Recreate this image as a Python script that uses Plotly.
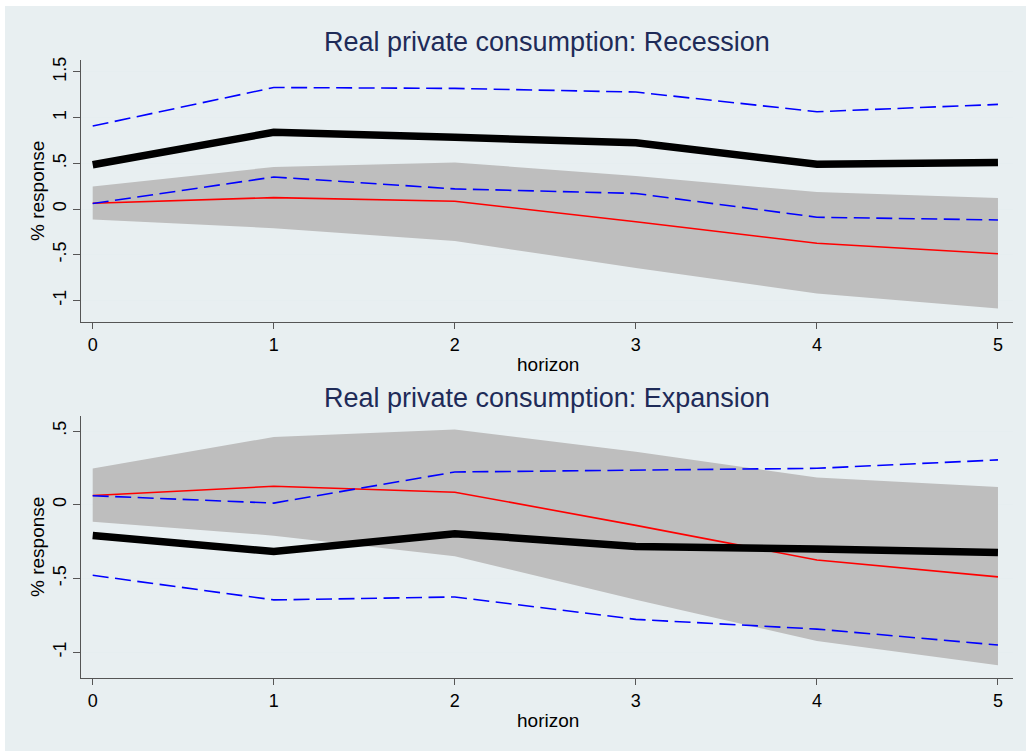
import plotly.graph_objects as go

horizon = [0, 1, 2, 3, 4, 5]

# Linear (common) response and its confidence band - same in both panels
lin_resp = [0.063, 0.125, 0.085, -0.14, -0.375, -0.49]
lin_upper = [0.245, 0.46, 0.51, 0.36, 0.185, 0.12]
lin_lower = [-0.115, -0.21, -0.35, -0.645, -0.925, -1.09]

# Recession state
rec_resp = [0.485, 0.84, 0.785, 0.725, 0.49, 0.51]
rec_upper = [0.908, 1.33, 1.32, 1.28, 1.065, 1.145]
rec_lower = [0.06, 0.35, 0.22, 0.17, -0.09, -0.12]

# Expansion state
exp_resp = [-0.209, -0.318, -0.197, -0.283, -0.30, -0.324]
exp_upper = [0.061, 0.011, 0.222, 0.233, 0.247, 0.304]
exp_lower = [-0.479, -0.646, -0.626, -0.778, -0.844, -0.952]

titles = ["Real private consumption: Recession", "Real private consumption: Expansion"]
ytick_top = [-1, -0.5, 0, 0.5, 1, 1.5]
ytick_top_text = ["-1", "-.5", "0", ".5", "1", "1.5"]
ytick_bot = [-1, -0.5, 0, 0.5]
ytick_bot_text = ["-1", "-.5", "0", ".5"]

W, H = 1026, 751
FONT = "Liberation Sans, Arial, Helvetica, sans-serif"
BG = "#E8EFF1"
NAVY = "#1E2B58"

fig = go.Figure()

panels = [
    dict(xa="x", ya="y", resp=rec_resp, up=rec_upper, lo=rec_lower),
    dict(xa="x2", ya="y2", resp=exp_resp, up=exp_upper, lo=exp_lower),
]

for p in panels:
    fig.add_trace(go.Scatter(x=horizon, y=lin_upper, mode="lines", line=dict(width=0, color="#BEBEBE"),
                             xaxis=p["xa"], yaxis=p["ya"], showlegend=False, hoverinfo="skip"))
    fig.add_trace(go.Scatter(x=horizon, y=lin_lower, mode="lines", line=dict(width=0, color="#BEBEBE"),
                             fill="tonexty", fillcolor="#BEBEBE",
                             xaxis=p["xa"], yaxis=p["ya"], showlegend=False, hoverinfo="skip"))
    fig.add_trace(go.Scatter(x=horizon, y=lin_resp, mode="lines", line=dict(width=1.6, color="#FF0000"),
                             xaxis=p["xa"], yaxis=p["ya"], showlegend=False))
    for band in (p["up"], p["lo"]):
        fig.add_trace(go.Scatter(x=horizon, y=band, mode="lines",
                                 line=dict(width=1.6, color="#0000FF", dash="16px,6.5px"),
                                 xaxis=p["xa"], yaxis=p["ya"], showlegend=False))
    fig.add_trace(go.Scatter(x=horizon, y=p["resp"], mode="lines", line=dict(width=7.5, color="#000000"),
                             xaxis=p["xa"], yaxis=p["ya"], showlegend=False))

# geometry (pixels)
x_left, x_right = 81, 1013
top_t, top_b = 60, 322
bot_t, bot_b = 416, 678

def px_x(v):
    return v / W

def px_y(v):
    return 1 - v / H

axis_common = dict(showline=True, linecolor="#555555", linewidth=1.3, mirror=False, automargin=False,
                   ticks="outside", tickcolor="#555555", tickwidth=1.2, zeroline=False,
                   tickfont=dict(family=FONT, size=18, color="#000000"))

xaxis_style = dict(axis_common, range=[-0.0646, 5.083], tickvals=horizon, ticklen=6,
                   showgrid=False, domain=[px_x(x_left), px_x(x_right)])

fig.update_layout(
    width=W, height=H,
    paper_bgcolor="white", plot_bgcolor="white",
    margin=dict(l=0, r=0, t=0, b=0, autoexpand=False),
    xaxis=dict(xaxis_style, anchor="y"),
    yaxis=dict(axis_common, range=[-1.237, 1.631], tickvals=ytick_top, ticktext=ytick_top_text,
               tickangle=-90, ticklen=7, showgrid=True, gridcolor="#E6EEF0", gridwidth=1.2,
               domain=[px_y(top_b), px_y(top_t)], anchor="x"),
    xaxis2=dict(xaxis_style, anchor="y2"),
    yaxis2=dict(axis_common, range=[-1.176, 0.602], tickvals=ytick_bot, ticktext=ytick_bot_text,
                tickangle=-90, ticklen=7, showgrid=True, gridcolor="#E6EEF0", gridwidth=1.2,
                domain=[px_y(bot_b), px_y(bot_t)], anchor="x2"),
    shapes=[dict(type="rect", xref="paper", yref="paper", x0=5 / W, x1=1, y0=0, y1=px_y(6),
                 fillcolor=BG, line=dict(width=0), layer="below")],
)

cx = (x_left + x_right) / 2
ann = []
for title, ty in zip(titles, [42, 398]):
    ann.append(dict(text=title, x=px_x(cx), y=px_y(ty), xref="paper", yref="paper",
                    xanchor="center", yanchor="middle", showarrow=False,
                    font=dict(family=FONT, size=27, color=NAVY)))
for hy in [365, 720]:
    ann.append(dict(text="horizon", x=px_x(548), y=px_y(hy), xref="paper", yref="paper",
                    xanchor="center", yanchor="middle", showarrow=False,
                    font=dict(family=FONT, size=19, color="#000000")))
for ry in [191, 547]:
    ann.append(dict(text="% response", x=px_x(37), y=px_y(ry), xref="paper", yref="paper",
                    xanchor="center", yanchor="middle", showarrow=False, textangle=-90,
                    font=dict(family=FONT, size=19, color="#000000")))
fig.update_layout(annotations=ann)

fig.write_html("out.html", config={"displayModeBar": False},
               post_script="document.body.style.margin='0';document.body.style.overflow='hidden';")
